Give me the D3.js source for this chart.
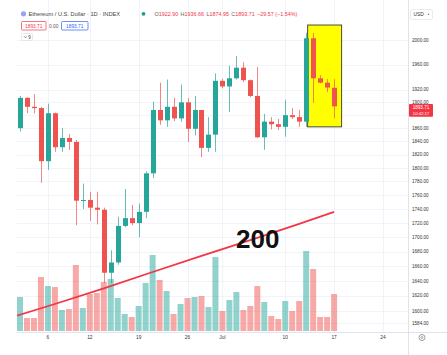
<!DOCTYPE html>
<html><head><meta charset="utf-8">
<script src="https://cdn.jsdelivr.net/npm/d3@7"></script>
<style>
body{margin:0;background:#fff;}
svg{display:block;font-family:"Liberation Sans",Arial,sans-serif;}
</style>
</head><body>
<svg id="c" width="447" height="355"></svg>
<script>
// ---- data ----
const dates = ["2023-06-02","2023-06-03","2023-06-04","2023-06-05","2023-06-06","2023-06-07","2023-06-08","2023-06-09","2023-06-10","2023-06-11","2023-06-12","2023-06-13","2023-06-14","2023-06-15","2023-06-16","2023-06-17","2023-06-18","2023-06-19","2023-06-20","2023-06-21","2023-06-22","2023-06-23","2023-06-24","2023-06-25","2023-06-26","2023-06-27","2023-06-28","2023-06-29","2023-06-30","2023-07-01","2023-07-02","2023-07-03","2023-07-04","2023-07-05","2023-07-06","2023-07-07","2023-07-08","2023-07-09","2023-07-10","2023-07-11","2023-07-12","2023-07-13","2023-07-14","2023-07-15","2023-07-16","2023-07-17"];
const open  = [1860,1907,1893,1891,1810,1883,1831,1845,1839,1752,1753,1742,1739,1651,1665,1716,1727,1720,1736,1792,1888,1872,1893,1875,1900,1859,1888,1830,1850,1934,1925,1938,1955,1935,1910,1846,1870,1866,1862,1880,1877,1870,2003,1938,1931,1922.90];
const high  = [1910,1908,1913,1893,1898,1884,1860,1851,1842,1777,1765,1765,1742,1682,1729,1769,1746,1748,1795,1901,1931,1936,1907,1928,1907,1910,1888,1877,1946,1937,1958,1974,1964,1936,1956,1882,1877,1874,1904,1891,1888,2012,2012,1943,1937,1936.66];
const low   = [1855,1883,1883,1778,1797,1824,1824,1827,1717,1740,1723,1718,1637,1637,1662,1714,1717,1700,1727,1785,1865,1862,1871,1870,1839,1849,1816,1824,1824,1922,1885,1936,1932,1908,1845,1827,1858,1857,1847,1874,1862,1862,1899,1930,1916,1874.95];
const close = [1907,1893,1891,1810,1883,1831,1845,1839,1752,1753,1742,1739,1651,1665,1716,1727,1720,1736,1792,1888,1872,1893,1875,1900,1859,1888,1830,1850,1934,1925,1938,1955,1935,1910,1846,1870,1866,1862,1880,1877,1870,2003,1938,1931,1923.28,1893.71];
const volume = [340,130,130,540,450,440,210,220,660,230,370,380,490,520,330,170,140,250,480,760,510,400,170,270,330,340,350,240,740,200,310,390,210,250,450,290,150,120,300,200,300,800,620,140,140,370];
const maDates  = ["2023-06-01","2023-06-07","2023-06-14","2023-06-21","2023-06-28","2023-07-05","2023-07-12","2023-07-17"];
const maValues = [1592,1609,1630,1652,1674,1696,1719,1736];
const priceTicks = [2000,1960,1920,1900,1880,1860,1840,1820,1800,1780,1760,1740,1720,1700,1680,1660,1640,1620,1600,1584];
const timeTicks = ["2023-06-06","2023-06-12","2023-06-19","2023-06-26","2023-07-01","2023-07-10","2023-07-17","2023-07-24"];
const timeTickLabels = ["6","12","19","26","Jul","10","17","24"];

// ---- setup ----
const UP = "#26a69a", DOWN = "#ef5350";
const svg = d3.select("#c");
const parse = d3.utcParse("%Y-%m-%d");
const x = d3.scaleUtc().domain([parse("2023-06-02"), parse("2023-07-17")]).range([20, 334.1]);
const y = d3.scaleLog().domain([1584, 2000]).range([323, 40.1]);
const yv = d3.scaleLinear().domain([0, 1000]).range([331, 231]);
const plotL = 17, plotR = 408, plotB = 332;

const data = dates.map((d, i) => ({date: parse(d), o: open[i], h: high[i], l: low[i], c: close[i], v: volume[i]}));

svg.append("defs").append("clipPath").attr("id", "clip")
  .append("rect").attr("x", plotL).attr("y", 0).attr("width", plotR - plotL).attr("height", plotB);

// gridlines
const grid = svg.append("g");
grid.selectAll("line.h").data(priceTicks).join("line")
  .attr("x1", plotL).attr("x2", plotR).attr("y1", d => Math.round(y(d)) + 0.5).attr("y2", d => Math.round(y(d)) + 0.5)
  .attr("stroke", "#f0f3fa").attr("stroke-width", 1);
grid.selectAll("line.v").data(timeTicks).join("line")
  .attr("x1", d => Math.round(x(parse(d))) + 0.5).attr("x2", d => Math.round(x(parse(d))) + 0.5)
  .attr("y1", 0).attr("y2", plotB).attr("stroke", "#f0f3fa").attr("stroke-width", 1);

const plot = svg.append("g").attr("clip-path", "url(#clip)");

// volume
plot.selectAll("rect.vol").data(data).join("rect")
  .attr("x", d => x(d.date) - 3).attr("width", 6)
  .attr("y", d => yv(d.v)).attr("height", d => yv(0) - yv(d.v))
  .attr("fill", d => d.c >= d.o ? "rgba(38,166,154,0.5)" : "rgba(239,83,80,0.5)");

// yellow highlight box
const hb0 = parse("2023-07-14"), hb1 = parse("2023-07-17");
plot.append("rect")
  .attr("x", x(hb0) - 5.5).attr("y", y(2025))
  .attr("width", x(hb1) - x(hb0) + 13).attr("height", y(1862) - y(2025))
  .attr("fill", "#ffff00").attr("stroke", "#4a4a3a").attr("stroke-width", 1);

// MA line
const ma = maDates.map((d, i) => ({date: parse(d), v: maValues[i]}));
plot.append("path").datum(ma)
  .attr("d", d3.line().x(d => x(d.date)).y(d => y(d.v)))
  .attr("fill", "none").attr("stroke", "#f23645").attr("stroke-width", 1.8);

// candles
const cg = plot.selectAll("g.candle").data(data).join("g");
cg.append("line")
  .attr("x1", d => Math.round(x(d.date)) + 0.5).attr("x2", d => Math.round(x(d.date)) + 0.5)
  .attr("y1", d => y(d.h)).attr("y2", d => y(d.l))
  .attr("stroke", d => d.c >= d.o ? UP : DOWN).attr("stroke-width", 1).attr("opacity", 0.7);
cg.append("rect")
  .attr("x", d => Math.round(x(d.date)) - 2).attr("width", 5)
  .attr("y", d => y(Math.max(d.o, d.c)))
  .attr("height", d => Math.max(1, y(Math.min(d.o, d.c)) - y(Math.max(d.o, d.c))))
  .attr("fill", d => d.c >= d.o ? UP : DOWN);

// "200" annotation
svg.append("text").attr("x", 236).attr("y", 247.5)
  .attr("font-size", 26).attr("font-weight", "bold").attr("fill", "#111").text("200");

// axes borders
svg.append("line").attr("x1", plotR + 0.5).attr("x2", plotR + 0.5).attr("y1", 0).attr("y2", 355).attr("stroke", "#e0e3eb");
svg.append("line").attr("x1", plotL).attr("x2", 447).attr("y1", plotB + 0.5).attr("y2", plotB + 0.5).attr("stroke", "#e0e3eb");

// last price
const last = data[data.length - 1];
const prev = data[data.length - 2];
const ly = y(last.c);

// price axis labels (the one under the last-price tag is hidden, as in the original)
svg.append("g").selectAll("text").data(priceTicks.filter(d => Math.abs(y(d) - (ly + 3.7)) > 7)).join("text")
  .attr("x", 412).attr("y", d => y(d) + 1.7)
  .attr("font-size", 4.6).attr("fill", "#333").text(d => d3.format(".2f")(d));

svg.append("rect").attr("x", 409).attr("y", ly - 2.3).attr("width", 24).attr("height", 12.6).attr("rx", 1).attr("fill", "#f23645");
svg.append("text").attr("x", 421).attr("y", ly + 2.6).attr("text-anchor", "middle").attr("font-size", 4.6).attr("fill", "#fff").text(d3.format(".2f")(last.c));
svg.append("text").attr("x", 421).attr("y", ly + 8.3).attr("text-anchor", "middle").attr("font-size", 4.2).attr("fill", "#fff").text("10:42:17");

// time axis labels
svg.append("g").selectAll("text").data(timeTicks).join("text")
  .attr("x", d => x(parse(d))).attr("y", 339)
  .attr("text-anchor", "middle").attr("font-size", 4.8).attr("fill", "#333")
  .text((d, i) => timeTickLabels[i]);

// settings icon
svg.append("circle").attr("cx", 422).attr("cy", 337.5).attr("r", 3).attr("fill", "none").attr("stroke", "#777").attr("stroke-width", 0.7);
svg.append("circle").attr("cx", 422).attr("cy", 337.5).attr("r", 1).attr("fill", "none").attr("stroke", "#777").attr("stroke-width", 0.6);

// header
svg.append("circle").attr("cx", 23.5).attr("cy", 13.8).attr("r", 2.6).attr("fill", "#9aa3f2");
svg.append("text").attr("x", 28.5).attr("y", 15.8).attr("font-size", 5.7).attr("fill", "#444")
  .text("Ethereum / U.S. Dollar · 1D · INDEX");
svg.append("circle").attr("cx", 143.5).attr("cy", 13.8).attr("r", 1.9).attr("fill", "#1f9d8b");
const ohlc = svg.append("text").attr("x", 154.5).attr("y", 15.8).attr("font-size", 5.4);
const chg = last.c - prev.c;
[["O", last.o], ["H", last.h], ["L", last.l], ["C", last.c]].forEach(([k, v], i) => {
  ohlc.append("tspan").attr("fill", "#666").attr("dx", i ? 2.4 : 0).text(k);
  ohlc.append("tspan").attr("fill", "#f23645").text(d3.format(".2f")(v));
});
ohlc.append("tspan").attr("fill", "#f23645").attr("dx", 2.4)
  .text(d3.format(".2f")(chg).replace("-", "−") + " (" + d3.format(".2f")(chg / prev.c * 100).replace("-", "−") + "%)");

// row 2 boxes
svg.append("rect").attr("x", 21.5).attr("y", 21.5).attr("width", 24.5).attr("height", 8.5).attr("rx", 1).attr("fill", "#fff").attr("stroke", "#f23645").attr("stroke-width", 0.7);
svg.append("text").attr("x", 33.75).attr("y", 27.5).attr("text-anchor", "middle").attr("font-size", 4.8).attr("fill", "#f23645").text(d3.format(".2f")(last.c));
svg.append("text").attr("x", 49).attr("y", 27.5).attr("font-size", 4.8).attr("fill", "#555").text("0.00");
svg.append("rect").attr("x", 61.5).attr("y", 21.5).attr("width", 26.5).attr("height", 8.5).attr("rx", 1).attr("fill", "#fff").attr("stroke", "#2962ff").attr("stroke-width", 0.7);
svg.append("text").attr("x", 74.75).attr("y", 27.5).attr("text-anchor", "middle").attr("font-size", 4.8).attr("fill", "#2962ff").text(d3.format(".2f")(last.c));

// row 3 indicator toggle
svg.append("rect").attr("x", 21.5).attr("y", 33.5).attr("width", 11).attr("height", 7).attr("rx", 1).attr("fill", "#fff").attr("stroke", "#d6d9e0").attr("stroke-width", 0.6);
svg.append("path").attr("d", "M24,36.2 L25.5,37.8 L27,36.2").attr("fill", "none").attr("stroke", "#444").attr("stroke-width", 0.6);
svg.append("text").attr("x", 28.3).attr("y", 38.8).attr("font-size", 4.6).attr("fill", "#444").text("9");

// USD button
svg.append("rect").attr("x", 410.5).attr("y", 9.5).attr("width", 22).attr("height", 10).attr("rx", 1.5).attr("fill", "#fff").attr("stroke", "#e0e3eb").attr("stroke-width", 0.7);
svg.append("text").attr("x", 413.5).attr("y", 16.3).attr("font-size", 4.8).attr("fill", "#333").text("USD");
svg.append("path").attr("d", "M427.5,13.8 L429.5,13.8 L428.5,15.2 Z").attr("fill", "#666");
</script>
</body></html>
